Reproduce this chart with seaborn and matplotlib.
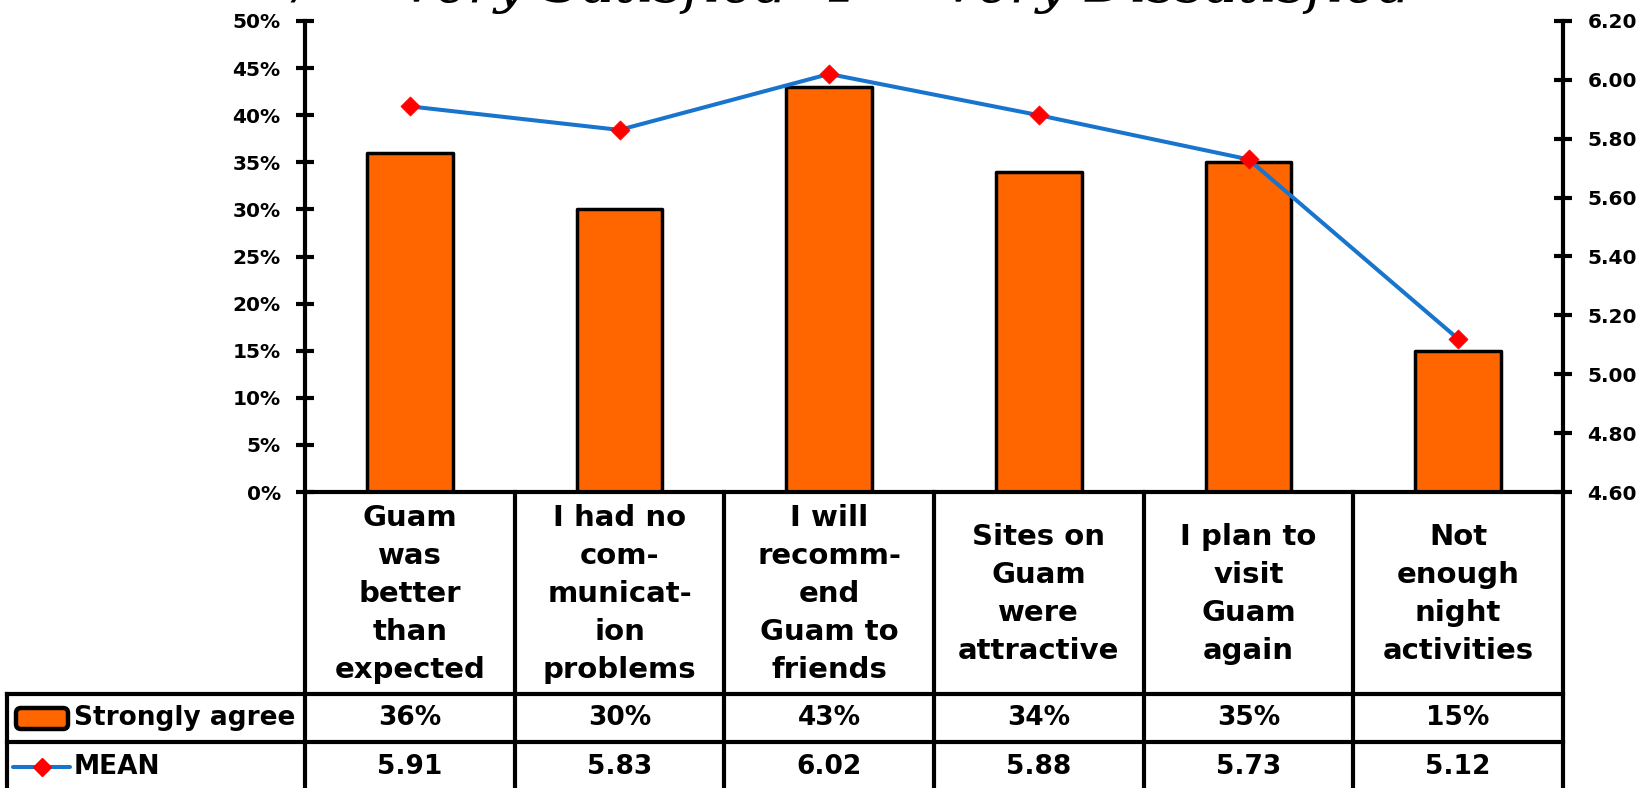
import matplotlib
matplotlib.use("Agg")
import matplotlib.pyplot as plt
import matplotlib.transforms as mtransforms
from matplotlib.lines import Line2D
from matplotlib.patches import FancyBboxPatch
import numpy as np
import pandas as pd
import seaborn as sns

# ---- data -------------------------------------------------------------
categories = [
    "Guam\nwas\nbetter\nthan\nexpected",
    "I had no\ncom-\nmunicat-\nion\nproblems",
    "I will\nrecomm-\nend\nGuam to\nfriends",
    "Sites on\nGuam\nwere\nattractive",
    "I plan to\nvisit\nGuam\nagain",
    "Not\nenough\nnight\nactivities",
]
strongly_agree = [36, 30, 43, 34, 35, 15]          # percent
mean_score = [5.91, 5.83, 6.02, 5.88, 5.73, 5.12]   # 1..7 scale
pct_ticks = [0, 5, 10, 15, 20, 25, 30, 35, 40, 45, 50]
mean_ticks = [4.60, 4.80, 5.00, 5.20, 5.40, 5.60, 5.80, 6.00, 6.20]
series_names = ["Strongly agree", "MEAN"]
title_text = "7 = Very Satisfied  1 = Very Dissatisfied"

# ---- style ------------------------------------------------------------
sns.set_style("white")
plt.rcParams["font.family"] = ["DejaVu Sans"]
plt.rcParams["font.weight"] = "bold"
plt.rcParams["text.color"] = "black"
plt.rcParams["ytick.color"] = "black"
plt.rcParams["ytick.labelcolor"] = "black"

ORANGE = "#FF6600"
BLUE = "#1874CD"
RED = "#FF0000"
LW = 3.0

W, H = 1649, 788
fig = plt.figure(figsize=(W / 100, H / 100), dpi=100)

def fx(px):
    return px / W

def fy(py):
    return 1 - py / H

x_left, x_right, y_top, y_zero = 305, 1563, 21, 492
ax = fig.add_axes([fx(x_left), fy(y_zero), fx(x_right - x_left), (y_zero - y_top) / H])

df = pd.DataFrame({"item": categories, "agree": strongly_agree, "mean": mean_score})

# bars
sns.barplot(data=df, x="item", y="agree", color=ORANGE, saturation=1,
            edgecolor="black", linewidth=2.5, width=0.41, ax=ax, zorder=2)
for p in ax.patches:
    p.set_joinstyle("round")

# mean line on secondary axis
ax2 = ax.twinx()
pos = np.arange(len(categories))
sns.lineplot(x=pos, y=mean_score, color=BLUE, linewidth=2.9, ax=ax2, zorder=3)
sns.scatterplot(x=pos, y=mean_score, marker="D", color=RED, edgecolor=RED,
                linewidth=0.5, s=95, ax=ax2, zorder=4)

n = len(categories)
ax.set_xlim(-0.5, n - 0.5)
ax2.set_xlim(-0.5, n - 0.5)
ax.set_ylim(0, 50)
ax2.set_ylim(4.6, 6.2)

ax.set_yticks(pct_ticks)
ax.set_yticklabels([f"{t}%" for t in pct_ticks])
ax2.set_yticks(mean_ticks)
ax2.set_yticklabels([f"{t:.2f}" for t in mean_ticks])
for a in (ax, ax2):
    a.set_xlabel("")
    a.set_ylabel("")
    a.set_xticks([])
    a.tick_params(axis="y", direction="inout", length=13, width=LW, pad=11,
                  labelsize=14.5, colors="black")
    for s in a.spines.values():
        s.set_visible(False)
    a.grid(False)
    a.set_facecolor("none")
for lbl in ax.get_yticklabels() + ax2.get_yticklabels():
    lbl.set_fontweight("bold")
ax.tick_params(axis="y", right=False)
ax2.tick_params(axis="y", left=False)

# ---- data table under the plot -----------------------------------------
bt = mtransforms.blended_transform_factory(ax.transData, fig.transFigure)
row_top, row1, row2, bottom = y_zero, 694, 742, H + 5
table_left = 7

def fig_line(xs, ys, transform):
    fig.add_artist(Line2D(xs, ys, transform=transform, color="black",
                          linewidth=LW, solid_capstyle="projecting", zorder=5))

# axis lines (outer) and column separators (inner)
bounds = np.arange(n + 1) - 0.5
for k, b in enumerate(bounds):
    start = y_top if k in (0, n) else row_top
    fig_line([b, b], [fy(start), fy(bottom)], bt)
fig_line([-0.5, n - 0.5], [fy(row_top), fy(row_top)], bt)
for yy in (row1, row2):
    fig_line([fx(table_left), fx(x_right)], [fy(yy), fy(yy)], fig.transFigure)
fig_line([fx(table_left), fx(table_left)], [fy(row1), fy(bottom)], fig.transFigure)

# category headers
for i, c in enumerate(categories):
    fig.text(i, fy((row_top + row1) / 2 + 1), c, transform=bt,
             ha="center", va="center", fontsize=21, fontweight="bold",
             linespacing=1.45, multialignment="center")

# values rows
for i, (a, m) in enumerate(zip(strongly_agree, mean_score)):
    fig.text(i, fy((row1 + row2) / 2), f"{a}%", transform=bt,
             ha="center", va="center", fontsize=19, fontweight="bold")
    fig.text(i, fy((row2 + H) / 2 + 2), f"{m:.2f}", transform=bt,
             ha="center", va="center", fontsize=19, fontweight="bold")

# legend keys in the first column
fig.add_artist(FancyBboxPatch((fx(16), fy(729)), fx(52), (729 - 708) / H,
                              boxstyle="round,pad=0,rounding_size=0.003",
                              transform=fig.transFigure, facecolor=ORANGE,
                              edgecolor="black", linewidth=3.2, zorder=6,
                              mutation_aspect=W / H))
fig.add_artist(Line2D([fx(13), fx(70)], [fy(767), fy(767)],
                      transform=fig.transFigure, color=BLUE, linewidth=2.9,
                      solid_capstyle="round", zorder=6))
fig.add_artist(Line2D([fx(42)], [fy(767)], transform=fig.transFigure,
                      marker="D", markersize=9.5, color=RED, linestyle="none",
                      zorder=7))
fig.text(fx(74), fy((row1 + row2) / 2), series_names[0], ha="left",
         va="center", fontsize=19, fontweight="bold")
fig.text(fx(74), fy((row2 + H) / 2 + 2), series_names[1], ha="left",
         va="center", fontsize=19, fontweight="bold")

# title (runs off the top edge)
fig.text(fx(848), fy(2), title_text, ha="center",
         va="baseline", fontsize=40, family="DejaVu Serif", style="italic",
         fontweight="normal")

fig.savefig("out.png", dpi=100)
